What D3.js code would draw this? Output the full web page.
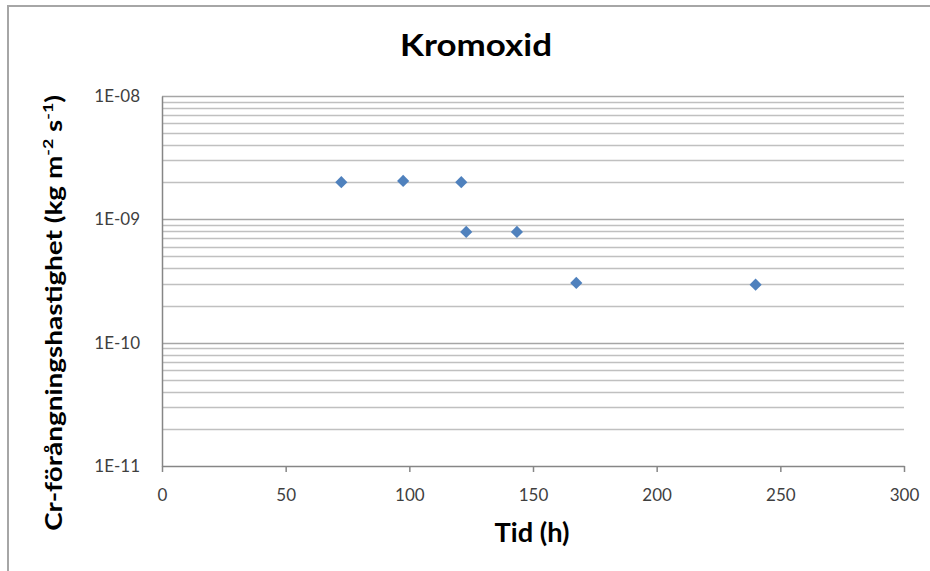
<!DOCTYPE html>
<html>
<head>
<meta charset="utf-8">
<script src="https://cdn.jsdelivr.net/npm/d3@7"></script>
<style>
  body { margin: 0; background: #fff; }
  svg { display: block; font-family: Lato, "Open Sans", sans-serif; }
</style>
</head>
<body>
<svg id="chart" width="930" height="571"></svg>
<script>
// data
const hours = [72.5, 97.5, 121, 123, 143.5, 167.5, 240];
const rates = [2.0e-9, 2.05e-9, 2.0e-9, 7.9e-10, 7.9e-10, 3.05e-10, 2.95e-10];
const xTicks = [0, 50, 100, 150, 200, 250, 300];
const yTicks = [1e-8, 1e-9, 1e-10, 1e-11];
const yTickLabels = ["1E-08", "1E-09", "1E-10", "1E-11"];

const svg = d3.select("#chart");

// outer chart border
svg.append("rect")
  .attr("x", 8).attr("y", 6)
  .attr("width", 940).attr("height", 600)
  .attr("fill", "none")
  .attr("stroke", "#a6a6a6")
  .attr("stroke-width", 2);

const plotL = 162, plotR = 904, plotT = 96, plotB = 466;

const x = d3.scaleLinear().domain([0, 300]).range([plotL, plotR]);
const y = d3.scaleLog().domain([1e-11, 1e-8]).range([plotB, plotT]);

// gridlines: minor 2..9 in every decade, then majors
const minor = [];
[1e-11, 1e-10, 1e-9].forEach(d => {
  for (let k = 2; k <= 9; k++) minor.push(d * k);
});
svg.append("g").selectAll("line").data(minor).join("line")
  .attr("x1", plotL).attr("x2", plotR)
  .attr("y1", d => Math.round(y(d)) + 0.5)
  .attr("y2", d => Math.round(y(d)) + 0.5)
  .attr("stroke", "#c0c0c0")
  .attr("stroke-width", 1.5);

svg.append("g").selectAll("line").data(yTicks.slice(0, 3)).join("line")
  .attr("x1", plotL).attr("x2", plotR)
  .attr("y1", d => Math.round(y(d)) + 0.5)
  .attr("y2", d => Math.round(y(d)) + 0.5)
  .attr("stroke", "#a6a6a6")
  .attr("stroke-width", 1.5);

// axes
const xAxis = svg.append("g")
  .attr("transform", `translate(0,${plotB})`)
  .call(d3.axisBottom(x).tickValues(xTicks).tickSize(6).tickSizeOuter(0).tickPadding(17));
xAxis.select(".domain").attr("stroke", "#868686").attr("stroke-width", 1.5);
xAxis.selectAll(".tick line").attr("stroke", "#868686").attr("stroke-width", 1.5);
xAxis.selectAll(".tick text")
  .attr("fill", "#3f3f3f").attr("font-size", 17).attr("font-family", "Lato, sans-serif");

const yAxis = svg.append("g")
  .attr("transform", `translate(${plotL},0)`)
  .call(d3.axisLeft(y).tickValues(yTicks).tickFormat((d, i) => yTickLabels[i])
    .tickSize(0).tickSizeOuter(0).tickPadding(22));
yAxis.select(".domain").attr("stroke", "#868686").attr("stroke-width", 1.5);
yAxis.selectAll(".tick text")
  .attr("fill", "#3f3f3f").attr("font-size", 17).attr("font-family", "Lato, sans-serif");

// markers (diamonds)
svg.append("g").selectAll("path").data(hours).join("path")
  .attr("d", d3.symbol().type(d3.symbolDiamond2).size(95))
  .attr("transform", (d, i) => `translate(${x(d)},${y(rates[i])})`)
  .attr("fill", "#4f81bd");

// stretch a text along its own length to hit a given width
function fitWidth(sel, cx, cy, width, rot) {
  const len = sel.node().getComputedTextLength();
  sel.attr("transform", `translate(${cx},${cy}) rotate(${rot}) scale(${width / len},1)`);
}

// title
const title = svg.append("text")
  .attr("text-anchor", "middle")
  .attr("font-size", 30).attr("font-weight", "bold")
  .attr("fill", "#000")
  .text("Kromoxid");
fitWidth(title, 476, 56, 152, 0);

// x axis title
const xt = svg.append("text")
  .attr("text-anchor", "middle")
  .attr("font-size", 27).attr("font-weight", "bold")
  .text("Tid (h)");
fitWidth(xt, 532, 542, 75, 0);

// y axis title with superscripts
const yt = svg.append("text")
  .attr("text-anchor", "middle")
  .attr("font-size", 22).attr("font-weight", "bold");
yt.append("tspan").text("Cr-förångningshastighet (kg m");
yt.append("tspan").attr("dy", -9).attr("font-size", 14).text("-2");
yt.append("tspan").attr("dy", 9).text(" s");
yt.append("tspan").attr("dy", -9).attr("font-size", 14).text("-1");
yt.append("tspan").attr("dy", 9).text(")");
fitWidth(yt, 62, 313, 436, -90);
</script>
</body>
</html>
